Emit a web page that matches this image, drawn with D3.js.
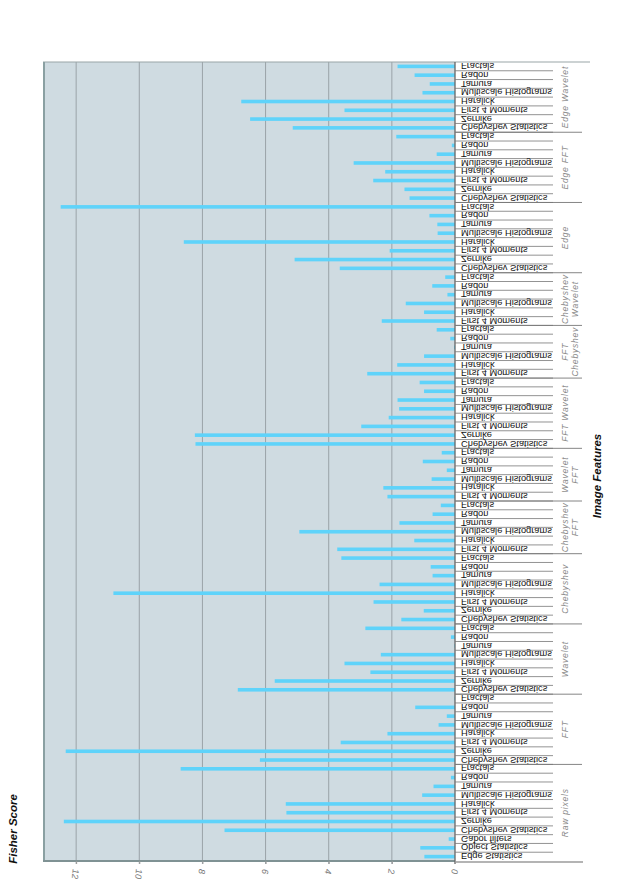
<!DOCTYPE html>
<html>
<head>
<meta charset="utf-8">
<script src="https://cdn.jsdelivr.net/npm/d3@7"></script>
<style>
  body { margin: 0; background: #fff; }
  svg { display: block; font-family: "Liberation Sans", Arial, sans-serif; }
</style>
</head>
<body>
<div id="chart"></div>
<script>
// groups listed bottom -> top, features in each group also bottom -> top
const groupNames = ["Raw pixels", "FFT", "Wavelet", "Chebyshev", "Chebyshev FFT", "Wavelet FFT",
  "FFT Wavelet", "FFT Chebyshev", "Chebyshev Wavelet", "Edge", "Edge FFT", "Edge Wavelet"];
const groupLabelLines = [["Raw pixels"], ["FFT"], ["Wavelet"], ["Chebyshev"], ["Chebyshev", "FFT"],
  ["Wavelet", "FFT"], ["FFT Wavelet"], ["FFT", "Chebyshev"], ["Chebyshev", "Wavelet"],
  ["Edge"], ["Edge FFT"], ["Edge Wavelet"]];

const rawFeatures = ["Edge Statistics", "Object Statistics", "Gabor filters", "Chebyshev Statistics",
  "Zernike", "First 4 Moments", "Haralick", "Multiscale Histograms", "Tamura", "Radon", "Fractals"];
const fullFeatures = ["Chebyshev Statistics", "Zernike", "First 4 Moments", "Haralick",
  "Multiscale Histograms", "Tamura", "Radon", "Fractals"];
const shortFeatures = ["First 4 Moments", "Haralick", "Multiscale Histograms", "Tamura", "Radon", "Fractals"];
const groupFeatures = [rawFeatures, fullFeatures, fullFeatures, fullFeatures, shortFeatures, shortFeatures,
  fullFeatures, shortFeatures, shortFeatures, fullFeatures, fullFeatures, fullFeatures];

const rawScores = [0.97, 1.10, 0.20, 7.30, 12.39, 5.34, 5.36, 1.04, 0.68, 0.13, 8.69];
const fftScores = [6.18, 12.33, 3.62, 2.14, 0.52, 0.26, 1.26, 0.02];
const waveletScores = [6.88, 5.71, 2.68, 3.50, 2.35, 0.02, 0.13, 2.84];
const chebyshevScores = [1.70, 0.99, 2.58, 10.82, 2.39, 0.71, 0.77, 3.60];
const chebyshevFftScores = [3.73, 1.29, 4.93, 1.76, 0.71, 0.45];
const waveletFftScores = [2.14, 2.27, 0.74, 0.26, 1.02, 0.42];
const fftWaveletScores = [8.22, 8.24, 2.97, 2.10, 1.77, 1.82, 0.98, 1.12];
const fftChebyshevScores = [2.78, 1.83, 0.98, 0.03, 0.15, 0.58];
const chebyshevWaveletScores = [2.32, 0.98, 1.56, 0.24, 0.72, 0.31];
const edgeScores = [3.65, 5.08, 2.07, 8.59, 0.55, 0.56, 0.81, 12.49];
const edgeFftScores = [1.44, 1.60, 2.59, 2.21, 3.21, 0.58, 0.10, 1.86];
const edgeWaveletScores = [5.14, 6.49, 3.50, 6.77, 1.03, 0.80, 1.28, 1.82];
const groupScores = [rawScores, fftScores, waveletScores, chebyshevScores, chebyshevFftScores,
  waveletFftScores, fftWaveletScores, fftChebyshevScores, chebyshevWaveletScores,
  edgeScores, edgeFftScores, edgeWaveletScores];

const tickValues = [0, 2, 4, 6, 8, 10, 12];

// flatten into rows
let rows = [];
let groups = [];
groupNames.forEach((g, gi) => {
  let start = rows.length;
  groupFeatures[gi].forEach((f, i) => {
    rows.push({ id: gi + "-" + i, group: g, feature: f, score: groupScores[gi][i] });
  });
  groups.push({ name: g, lines: groupLabelLines[gi], first: rows[start].id, last: rows[rows.length - 1].id });
});

const width = 618, height = 892;
const plotLeft = 43, zeroX = 455, plotTop = 62, plotBottom = 861;

const svg = d3.select("#chart").append("svg")
  .attr("width", width).attr("height", height);

const x = d3.scaleLinear().domain([0, 13.05]).range([zeroX, plotLeft]);
const y = d3.scaleBand().domain(rows.map(d => d.id)).range([plotBottom, plotTop]);

// plot background
svg.append("rect")
  .attr("x", plotLeft).attr("y", plotTop)
  .attr("width", zeroX - plotLeft).attr("height", plotBottom - plotTop)
  .attr("fill", "#cfdbe1");

// grid
svg.append("g")
  .selectAll("line")
  .data(tickValues.filter(d => d > 0))
  .join("line")
  .attr("x1", d => x(d)).attr("x2", d => x(d))
  .attr("y1", plotTop).attr("y2", plotBottom + 3)
  .attr("stroke", "#9aa3a8").attr("stroke-width", 1);

// bars
svg.append("g")
  .selectAll("rect")
  .data(rows)
  .join("rect")
  .attr("x", d => x(d.score))
  .attr("y", d => y(d.id) + y.bandwidth() / 2 - 1.8)
  .attr("width", d => x(0) - x(d.score))
  .attr("height", 3.6)
  .attr("fill", "#5fd3fa");

// frame
svg.append("line").attr("x1", plotLeft).attr("x2", 590).attr("y1", plotTop).attr("y2", plotTop)
  .attr("stroke", "#9aa5a8").attr("stroke-width", 1.2);
svg.append("line").attr("x1", plotLeft + 1).attr("x2", plotLeft + 1).attr("y1", plotTop).attr("y2", plotBottom)
  .attr("stroke", "#8aa0a2").attr("stroke-width", 2);
svg.append("line").attr("x1", zeroX).attr("x2", 583).attr("y1", plotBottom + 1).attr("y2", plotBottom + 1)
  .attr("stroke", "#b4b4b4").attr("stroke-width", 2);
svg.append("line").attr("x1", plotLeft).attr("x2", zeroX).attr("y1", plotBottom).attr("y2", plotBottom)
  .attr("stroke", "#7f9294").attr("stroke-width", 2);
svg.append("line").attr("x1", zeroX).attr("x2", zeroX).attr("y1", plotTop).attr("y2", plotBottom + 3)
  .attr("stroke", "#666").attr("stroke-width", 1.3);

// x axis ticks labels (rotated)
const axis = svg.append("g")
  .attr("transform", `translate(0,${plotBottom})`)
  .call(d3.axisBottom(x).tickValues(tickValues).tickSize(3).tickFormat(d3.format("d")));
axis.select(".domain").remove();
axis.selectAll(".tick line").attr("stroke", "#999");
axis.selectAll(".tick text")
  .attr("y", 0).attr("x", 8).attr("dy", "0.35em")
  .attr("transform", "rotate(95)")
  .style("text-anchor", "start")
  .style("font-style", "italic")
  .style("font-size", "9px")
  .attr("fill", "#777");

// row separators
const rowLines = svg.append("g");
rows.forEach((d, i) => {
  if (i === 0) return;
  rowLines.append("line")
    .attr("x1", zeroX).attr("x2", 553)
    .attr("y1", y(d.id) + y.bandwidth()).attr("y2", y(d.id) + y.bandwidth())
    .attr("stroke", "#777").attr("stroke-width", 0.8);
});

// group separators
svg.append("g")
  .selectAll("line")
  .data(groups.slice(1))
  .join("line")
  .attr("x1", zeroX).attr("x2", 582)
  .attr("y1", d => y(d.first) + y.bandwidth())
  .attr("y2", d => y(d.first) + y.bandwidth())
  .attr("stroke", "#777").attr("stroke-width", 0.9);

// feature labels (flipped)
svg.append("g")
  .selectAll("text")
  .data(rows)
  .join("text")
  .attr("transform", d => `translate(461,${y(d.id) + y.bandwidth() / 2}) scale(1,-1)`)
  .attr("dy", "0.36em")
  .style("font-size", "9.3px")
  .attr("fill", "#111")
  .text(d => d.feature);

// group labels
const gl = svg.append("g")
  .selectAll("text")
  .data(groups)
  .join("text")
  .attr("transform", d => {
    let cy = (y(d.first) + y.bandwidth() + y(d.last)) / 2;
    return `translate(565,${cy}) rotate(-90)`;
  })
  .attr("text-anchor", "middle")
  .style("font-size", "8.5px")
  .style("font-style", "italic")
  .style("letter-spacing", "0.8px")
  .attr("fill", "#8a8a8a");
gl.selectAll("tspan")
  .data(d => d.lines)
  .join("tspan")
  .attr("x", 0)
  .attr("y", (d, i) => i * 10)
  .attr("dy", "0.35em")
  .text(d => d);

// axis titles
svg.append("text")
  .attr("transform", "translate(17,829) rotate(-90)")
  .attr("text-anchor", "middle")
  .style("font-family", "'Liberation Sans Narrow', 'Liberation Sans', sans-serif")
  .style("font-weight", "bold").style("font-style", "italic")
  .style("font-size", "11.5px")
  .attr("fill", "#111")
  .text("Fisher  Score");

svg.append("text")
  .attr("transform", "translate(601,476) rotate(-90)")
  .attr("text-anchor", "middle")
  .style("font-family", "'Liberation Sans Narrow', 'Liberation Sans', sans-serif")
  .style("font-weight", "bold").style("font-style", "italic")
  .style("font-size", "11.5px")
  .attr("fill", "#111")
  .text("Image Features");
</script>
</body>
</html>
